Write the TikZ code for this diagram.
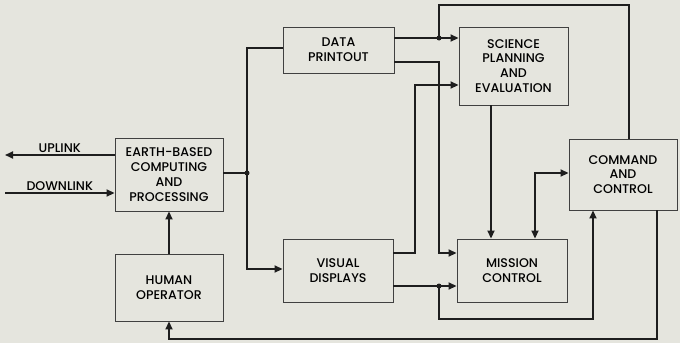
\documentclass[tikz,border=0pt]{standalone}
\usepackage{fontspec}
\setmainfont{Poppins}[UprightFont=* Medium]
\usepackage{tikz}
\usetikzlibrary{arrows.meta,calc}
\definecolor{paper}{HTML}{E5E5DE}
\definecolor{ink}{HTML}{1E1E1E}
\tikzset{
  blk/.style={draw=ink!85, line width=0.9pt, fill=paper, align=center, inner sep=2pt,
    font=\fontsize{12.6}{14.8}\selectfont},
  lbl/.style={font=\fontsize{12.6}{14.8}\selectfont, inner sep=2pt},
  wire/.style={draw=ink, line width=1.7pt},
  flow/.style={wire, -{Triangle[length=8pt,width=7pt]}},
  tap/.style={circle, fill=ink, inner sep=0pt, minimum size=5pt}
}

\begin{document}
\begin{tikzpicture}[x=1pt,y=-1pt]

  % page
  \fill[paper] (0,0) rectangle (680,343);
  \useasboundingbox (0,0) rectangle (680,343);

  % blocks
  \node[blk, minimum width=108pt, minimum height=73pt] (ebc) at (169,174.5)
    {EARTH-BASED\\COMPUTING\\AND\\PROCESSING};
  \node[blk, minimum width=108pt, minimum height=67pt] (hum) at (169,287.5)
    {HUMAN\\OPERATOR};
  \node[blk, minimum width=111pt, minimum height=46pt] (dat) at (338.5,50)
    {DATA\\PRINTOUT};
  \node[blk, minimum width=109pt, minimum height=78pt] (sci) at (513.5,66)
    {SCIENCE\\PLANNING\\AND\\EVALUATION};
  \node[blk, minimum width=110pt, minimum height=63pt] (vis) at (338,270.5)
    {VISUAL\\DISPLAYS};
  \node[blk, minimum width=110pt, minimum height=63pt] (mis) at (512,270.5)
    {MISSION\\CONTROL};
  \node[blk, minimum width=108pt, minimum height=71pt] (cmd) at (623,174.5)
    {COMMAND\\AND\\CONTROL};

  % bends and junctions
  \coordinate (upend) at (5,155);
  \coordinate (dnend) at (5,193);
  \coordinate (top) at (439,5);
  \coordinate (b1) at (415,150);
  \coordinate (b2) at (439,150);
  \coordinate (b3) at (593,319);
  \coordinate (b4) at (657,339);
  \node[tap] (spl) at (247,173) {};
  \node[tap] (tp1) at (439,38) {};
  \node[tap] (tp3) at (439,286) {};

  % links
  \draw[flow] (ebc.west |- upend) -- node[lbl, above] {UPLINK} (upend);
  \draw[flow] (dnend) -- node[lbl, above] {DOWNLINK} (ebc.west |- dnend);
  \draw[flow] (hum) -- (ebc);

  % out of earth-based computing
  \draw[wire] (ebc.east |- spl) -- (spl.center);
  \draw[wire] (spl.center) |- ([yshift=2pt]dat.west);
  \draw[flow] (spl.center) |- ([yshift=1.5pt]vis.west);

  % data printout
  \draw[flow] ([yshift=12pt]dat.east) -- (sci.west |- tp1);
  \draw[flow] ([yshift=-12pt]dat.east) -| (b2) |- ([yshift=17.5pt]mis.west);

  % visual displays
  \draw[flow] ([yshift=17.5pt]vis.east) -| (b1) |- ([yshift=-19pt]sci.west);
  \draw[flow] ([yshift=-15.5pt]vis.east) -- ([yshift=-15.5pt]mis.west);
  \draw[flow] (tp3.center) |- (b3) -| ([xshift=-30pt]cmd.south);

  % science planning and command
  \draw[flow] ([xshift=-22.5pt]sci.south) -- ([xshift=-22.5pt]sci.south |- mis.north);
  \draw[wire, {Triangle[length=8pt,width=7pt]}-{Triangle[length=8pt,width=7pt]}]
    ([xshift=23pt]mis.north) |- ([yshift=1.5pt]cmd.west);
  \draw[wire] ([xshift=6pt]cmd.north) |- (top) -- (tp1.center);
  \draw[flow] ([xshift=34pt]cmd.south) |- (b4) -| (hum.south);

\end{tikzpicture}
\end{document}
